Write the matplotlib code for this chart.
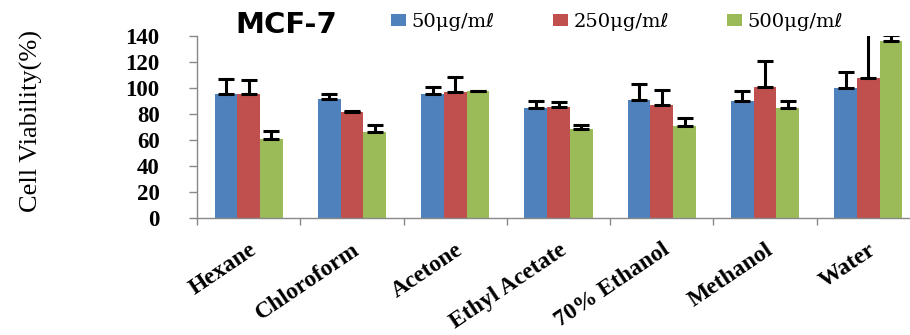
import numpy as np
import matplotlib
matplotlib.use('Agg')
import matplotlib.pyplot as plt
from matplotlib.patches import Patch

solvents = ['Hexane', 'Chloroform', 'Acetone', 'Ethyl Acetate',
            '70% Ethanol', 'Methanol', 'Water']
doses = ['50\u03bcg/m\u2113', '250\u03bcg/m\u2113', '500\u03bcg/m\u2113']

via_50 = [95.6, 91.8, 96.1, 85.1, 91.5, 90.2, 100.0]
via_250 = [95.6, 81.8, 97.4, 85.9, 87.6, 101.2, 108.2]
via_500 = [60.8, 66.9, 98.4, 68.7, 71.0, 85.1, 136.4]

err_50 = [12.0, 4.0, 4.7, 5.0, 12.3, 7.5, 12.5]
err_250 = [11.0, 0.8, 11.6, 4.0, 11.5, 20.0, 35.0]
err_500 = [6.6, 5.0, 0.0, 3.0, 6.4, 5.5, 5.0]

colors = ['#4F81BD', '#C0504D', '#9BBB59']

fig = plt.figure(figsize=(9.1, 3.35), dpi=100)
ax = fig.add_axes([0.2165, 0.3478, 0.7945, 0.5433])

x = np.arange(len(solvents))
w = 0.22
series = [(via_50, err_50), (via_250, err_250), (via_500, err_500)]
for i, (vals, errs) in enumerate(series):
    pos = x + (i - 1) * w
    ax.bar(pos, vals, w, color=colors[i], zorder=2)
    # only the upper half of each error bar is drawn
    ax.errorbar(pos, vals, yerr=[np.zeros(len(errs)), errs], fmt='none',
                ecolor='black', elinewidth=2.2, capsize=6, capthick=2.2,
                zorder=3)

ax.set_xlim(-0.5, len(solvents) - 0.5)
ax.set_ylim(0, 140)
ax.set_yticks(np.arange(0, 141, 20))

for side in ['top', 'right']:
    ax.spines[side].set_visible(False)
for side in ['left', 'bottom']:
    ax.spines[side].set_color('#888888')
    ax.spines[side].set_linewidth(1)

ax.tick_params(axis='y', direction='out', length=6, width=1,
               color='#888888', pad=21)
ax.set_yticklabels([str(v) for v in range(0, 141, 20)],
                   fontfamily='Liberation Serif', fontweight='bold',
                   fontsize=16.5)

ax.set_xticks(x)
ax.set_xticks(np.arange(-0.5, len(solvents), 1), minor=True)
ax.tick_params(axis='x', which='major', length=0, pad=15)
ax.tick_params(axis='x', which='minor', direction='out', length=5,
               width=1, color='#888888')
ax.set_xticklabels(solvents, rotation=34, ha='right', va='top',
                   rotation_mode='anchor', fontfamily='Liberation Serif',
                   fontweight='bold', fontsize=17)

fig.text(0.035, 0.64, 'Cell Viability(%)', rotation=90, ha='center',
         va='center', fontfamily='Liberation Serif', fontsize=19)

fig.text(0.315, 0.925, 'MCF-7', ha='center', va='center',
         fontfamily='DejaVu Sans', fontweight='bold', fontsize=21)

handles = [Patch(facecolor=c, edgecolor='none') for c in colors]
fig.legend(handles, doses, loc='center left',
           bbox_to_anchor=(0.43, 0.935), ncol=3, frameon=False,
           handlelength=0.75, handleheight=0.55, handletextpad=0.3,
           columnspacing=3.0, borderaxespad=0, borderpad=0,
           prop={'family': ['DejaVu Serif', 'DejaVu Sans'], 'size': 14})

fig.savefig('out.png', dpi=100)
